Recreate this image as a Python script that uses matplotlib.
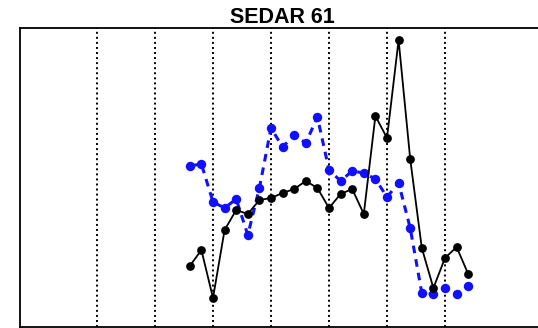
import matplotlib
matplotlib.use("Agg")
import matplotlib.pyplot as plt
import numpy as np

years = list(range(1993, 2018))
black_vals = [0.61, 0.77, 0.29, 0.97, 1.17, 1.13, 1.27, 1.29, 1.34, 1.38, 1.46, 1.39, 1.19,
              1.33, 1.38, 1.13, 2.11, 1.89, 2.87, 1.68, 0.79, 0.39, 0.69, 0.80, 0.53]
blue_vals = [1.61, 1.63, 1.25, 1.19, 1.28, 0.92, 1.39, 1.99, 1.80, 1.92, 1.84, 2.10, 1.57,
             1.46, 1.56, 1.54, 1.48, 1.30, 1.44, 0.99, 0.34, 0.33, 0.39, 0.33, 0.41]
grid_years = [1985, 1990, 1995, 2000, 2005, 2010, 2015]
title = "SEDAR 61"

fig = plt.figure(figsize=(5.38, 3.28), dpi=100)
W, H = 538, 328
left, right, top, bottom = 20, 544, 28, 327
ax = fig.add_axes([left / W, (H - bottom) / H, (right - left) / W, (bottom - top) / H])

for g in grid_years:
    ax.axvline(g, color="black", linestyle=(0, (1, 1.6)), linewidth=1.4, zorder=1)

ax.plot(years, blue_vals, color="#1010ff", linestyle=(0, (2.5, 2.0)), linewidth=2.2,
        marker="o", markersize=6.8, markeredgewidth=0, zorder=2)
ax.plot(years, black_vals, color="black", linestyle="-", linewidth=1.3,
        marker="o", markersize=6.3, markeredgewidth=0, zorder=3)

px_per_year = 58 / 5.0
x0 = 1995 - (213 - left) / px_per_year
x1 = 1995 + (right - 213) / px_per_year
ax.set_xlim(x0, x1)
ax.set_ylim(0, (bottom - top) / 100.0)
ax.set_xticks([])
ax.set_yticks([])
for s in ax.spines.values():
    s.set_linewidth(1.3)
ax.set_title(title, fontsize=15.5, fontweight="bold", family=["Liberation Sans", "DejaVu Sans"], pad=2)

fig.savefig("out.png", dpi=100)
